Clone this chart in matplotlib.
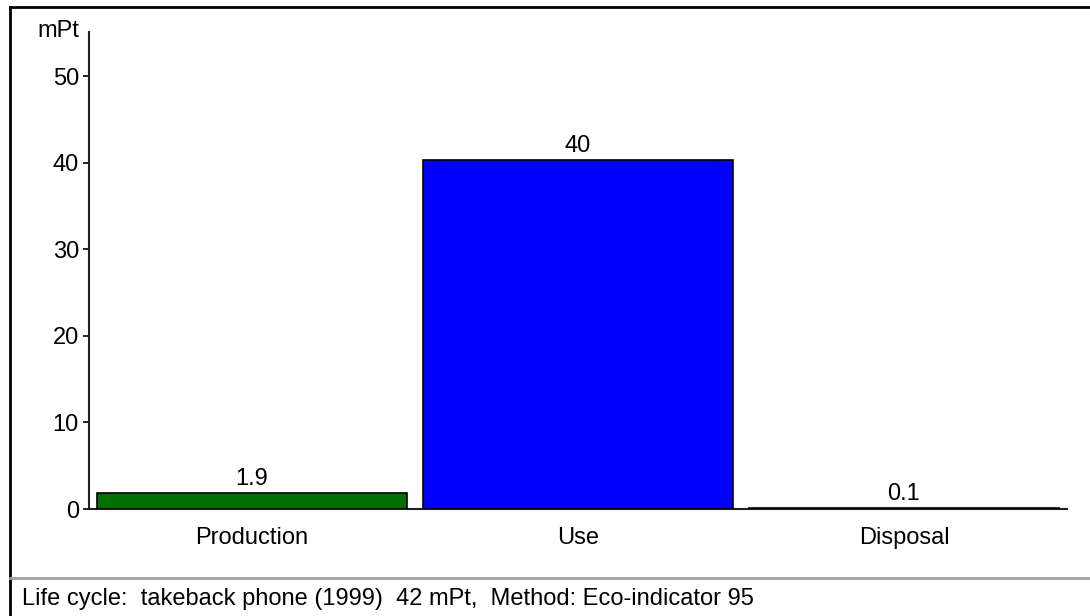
import matplotlib
matplotlib.use("Agg")
from matplotlib import pyplot as plt
from matplotlib.lines import Line2D

categories = ["Production", "Use", "Disposal"]
values = [1.9, 40.3, 0.1]
value_labels = ["1.9", "40", "0.1"]
bar_colors = ["#007000", "#0000ff", "#0000ff"]
y_ticks = [0, 10, 20, 30, 40, 50]
footer = "Life cycle:  takeback phone (1999)  42 mPt,  Method: Eco-indicator 95"

W, H = 1090, 616
FS = 17
plt.rcParams['font.family'] = ['Liberation Sans', 'DejaVu Sans']

fig = plt.figure(figsize=(W / 100, H / 100), dpi=100)
fig.patch.set_facecolor("white")

# axes box in pixel units
ax_left, ax_right, ax_top, ax_bottom = 89, 1067, 32, 509
ax = fig.add_axes([ax_left / W, (H - ax_bottom) / H,
                   (ax_right - ax_left) / W, (ax_bottom - ax_top) / H])

x = range(len(categories))
ax.bar(x, values, width=0.95, color=bar_colors, edgecolor="black", linewidth=1.2, zorder=3)
for i, v in enumerate(values):
    ax.annotate(value_labels[i], (i, v), xytext=(0, 2), textcoords="offset points",
                ha="center", va="bottom", fontsize=FS)

ax.set_xlim(-0.5, 2.5)
ax.set_ylim(0, 55.1)
ax.set_yticks(y_ticks)
ax.set_xticks(list(x))
ax.set_xticklabels(categories, fontsize=FS)
ax.tick_params(axis="x", length=0, pad=13)
ax.tick_params(axis="y", length=4.3, width=1.2, direction="out", labelsize=FS, pad=3)
for sp in ["top", "right"]:
    ax.spines[sp].set_visible(False)
for sp in ["left", "bottom"]:
    ax.spines[sp].set_linewidth(1.5)
    ax.spines[sp].set_color("#202020")
ax.patch.set_visible(False)

fig.text(58 / W, 1 - 31 / H, "mPt", ha="center", va="center", fontsize=FS)

# window frame and footer separator
fig.add_artist(Line2D([10 / W, 1], [1 - 7 / H, 1 - 7 / H], transform=fig.transFigure,
                      color="black", linewidth=2))
fig.add_artist(Line2D([10 / W, 10 / W], [0, 1 - 7 / H], transform=fig.transFigure,
                      color="black", linewidth=2))
fig.add_artist(Line2D([10 / W, 1], [1 - 578 / H, 1 - 578 / H], transform=fig.transFigure,
                      color="#a0a0a0", linewidth=2))
fig.text(22 / W, 1 - 599 / H, footer, ha="left", va="center", fontsize=FS)

plt.savefig("out.png", dpi=100)
plt.close()
